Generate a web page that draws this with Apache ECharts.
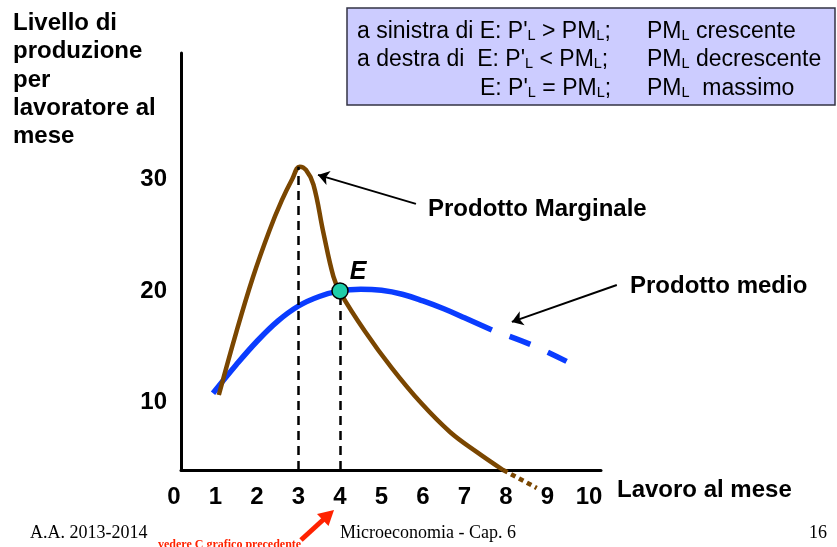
<!DOCTYPE html>
<html><head><meta charset="utf-8">
<script src="https://cdn.jsdelivr.net/npm/echarts@6/dist/echarts.min.js"></script>
<style>html,body{margin:0;padding:0;background:#fff}#c{width:837px;height:547px}</style>
</head><body><div id="c"></div>
<script>
// ---- data ----
const xTicks = [0, 1, 2, 3, 4, 5, 6, 7, 8, 9, 10];
const yTicks = [10, 20, 30];
// Prodotto marginale (solid part)
const marginalX = [1.08, 1.5, 1.9, 2.3, 2.6, 2.85, 3.03, 3.18, 3.36, 3.6, 3.84, 4.0, 4.6, 5.25, 5.95, 6.65, 7.3, 7.93];
const marginalY = [10.7, 16.3, 21.2, 25.4, 28.1, 30.0, 31.1, 30.8, 29.5, 25.2, 21.3, 19.9, 16.4, 13.1, 10.0, 7.4, 5.6, 4.0];
// Prodotto marginale (dotted continuation)
const marginalDotX = [7.93, 8.74];
const marginalDotY = [4.0, 2.4];
// Prodotto medio (solid part)
const averageX = [0.94, 1.5, 2.0, 2.5, 3.0, 3.5, 4.0, 4.5, 5.0, 5.5, 6.0, 6.5, 7.0, 7.66];
const averageY = [10.85, 13.4, 15.5, 17.3, 18.65, 19.5, 20.0, 20.15, 20.05, 19.7, 19.1, 18.4, 17.6, 16.5];
// Prodotto medio (dashed continuation)
const averageDashX = [7.66, 8.6, 9.46];
const averageDashY = [16.5, 15.2, 13.7];
// Punto E
const pointE = [4, 20];
// guide lines and arrows (data coordinates)
const guideX = [3, 4];
const guideTop = [31.1, 20];
const arrowMarginal = [[5.83, 27.77], [3.47, 30.36]];
const arrowMedio = [[10.67, 20.53], [8.14, 17.23]];

const zip = (a, b) => a.map((v, i) => [v, b[i]]);
const FONT = '"Liberation Sans", Arial, sans-serif';
const SERIF = '"Liberation Serif", "Times New Roman", serif';
const BLUE = '#0A3CFF', BROWN = '#7A4600';

const chart = echarts.init(document.getElementById('c'), null, { renderer: 'canvas' });

const boxRich = {
  n: { fontSize: 23, fontFamily: FONT, verticalAlign: 'bottom', lineHeight: 24, fill: '#000' },
  s: { fontSize: 14.5, fontFamily: FONT, verticalAlign: 'bottom', lineHeight: 18, fill: '#000' }
};
function boxText(x, y, str) {
  return { type: 'text', x: x, y: y, z: 20, style: { text: str, rich: boxRich, verticalAlign: 'middle', align: 'left', fill: '#000' } };
}

const option = {
  animation: false,
  backgroundColor: '#fff',
  grid: [
    { left: 174, right: 206.5, top: 53, bottom: 77 },
    { left: 181, right: 236, top: 53, bottom: 77 }
  ],
  xAxis: [
    { gridIndex: 0, type: 'value', min: 0, max: 11,
      axisLine: { show: false }, axisTick: { show: false }, splitLine: { show: false },
      axisLabel: { customValues: xTicks, margin: 15, fontSize: 24, fontWeight: 'bold', color: '#000', fontFamily: FONT } },
    { gridIndex: 1, type: 'value', min: 0, max: 1,
      axisLine: { show: true, onZero: false, lineStyle: { color: '#000', width: 3 } },
      axisTick: { show: false }, axisLabel: { show: false }, splitLine: { show: false },
      name: 'Lavoro al mese', nameLocation: 'end', nameGap: 16,
      nameTextStyle: { fontSize: 24, fontWeight: 'bold', color: '#000', fontFamily: FONT,
        verticalAlign: 'top', lineHeight: 40, align: 'left' } }
  ],
  yAxis: [
    { gridIndex: 0, type: 'value', min: 4, max: 41.25, show: false },
    { gridIndex: 1, type: 'value', min: 4, max: 41.25,
      axisLine: { show: true, onZero: false, lineStyle: { color: '#000', width: 3 } },
      axisTick: { show: false }, splitLine: { show: false },
      axisLabel: { customValues: yTicks, margin: 14, fontSize: 24, fontWeight: 'bold', color: '#000', fontFamily: FONT } }
  ],
  series: [
    { type: 'line', xAxisIndex: 0, yAxisIndex: 0, data: zip(averageX, averageY), smooth: 0.4, symbol: 'none', silent: true,
      lineStyle: { color: BLUE, width: 5.5 }, z: 2 },
    { type: 'line', xAxisIndex: 0, yAxisIndex: 0, data: zip(averageDashX, averageDashY), smooth: 0.4, symbol: 'none', silent: true,
      lineStyle: { color: BLUE, width: 5.5, type: [22, 19], dashOffset: 22, cap: 'butt' }, z: 2 },
    { type: 'line', xAxisIndex: 0, yAxisIndex: 0, data: zip(marginalX, marginalY), smooth: 0.4, symbol: 'none', silent: true,
      lineStyle: { color: BROWN, width: 4.5 }, z: 3,
      markLine: { silent: true, symbol: ['none', 'none'], label: { show: false },
        lineStyle: { color: '#000', width: 2.5, type: [9, 6] },
        data: guideX.map((x, i) => [{ coord: [x, 4] }, { coord: [x, guideTop[i]] }]) } },
    { type: 'line', xAxisIndex: 0, yAxisIndex: 0, data: zip(marginalDotX, marginalDotY), clip: false, symbol: 'none', silent: true,
      lineStyle: { color: BROWN, width: 4.5, type: [5, 4] }, z: 3,
      markLine: { silent: true, symbol: ['none', 'arrow'], symbolSize: 11, label: { show: false },
        lineStyle: { color: '#000', width: 2, type: 'solid' },
        data: [arrowMarginal, arrowMedio].map(a => [{ coord: a[0] }, { coord: a[1] }]) } },
    { type: 'scatter', xAxisIndex: 0, yAxisIndex: 0, data: [pointE], symbolSize: 16, silent: true, z: 10,
      itemStyle: { color: '#1ECDA9', borderColor: '#000', borderWidth: 1.5, opacity: 1 },
      label: { show: true, formatter: 'E', position: 'inside', offset: [18, -19], fontSize: 25,
        fontWeight: 'bold', fontStyle: 'italic', color: '#000', fontFamily: FONT } }
  ],
  graphic: [
    { type: 'text', x: 13, y: 9, style: { text: 'Livello di\nproduzione\nper\nlavoratore al\nmese',
        font: 'bold 24px ' + FONT, lineHeight: 28.4, fill: '#000', verticalAlign: 'top' } },
    { type: 'rect', z: 10, shape: { x: 347, y: 8, width: 488, height: 97 },
      style: { fill: '#CCCCFF', stroke: '#333344', lineWidth: 1.5 } },
    boxText(357, 31, "{n|a sinistra di E: P'}{s|L}{n| > PM}{s|L}{n|;}"),
    boxText(357, 59, "{n|a destra di  E: P'}{s|L}{n| < PM}{s|L}{n|;}"),
    boxText(480, 88, "{n|E: P'}{s|L}{n| = PM}{s|L}{n|;}"),
    boxText(647, 31, "{n|PM}{s|L}{n| crescente}"),
    boxText(647, 59, "{n|PM}{s|L}{n| decrescente}"),
    boxText(647, 88, "{n|PM}{s|L}{n|  massimo}"),
    { type: 'text', x: 428, y: 209, style: { text: 'Prodotto Marginale', font: 'bold 24px ' + FONT, fill: '#000', verticalAlign: 'middle' } },
    { type: 'text', x: 630, y: 286, style: { text: 'Prodotto medio', font: 'bold 24px ' + FONT, fill: '#000', verticalAlign: 'middle' } },
    { type: 'text', x: 30, y: 533, style: { text: 'A.A. 2013-2014', font: '18px ' + SERIF, fill: '#000', verticalAlign: 'middle' } },
    { type: 'text', x: 340, y: 533, style: { text: 'Microeconomia - Cap. 6', font: '18px ' + SERIF, fill: '#000', verticalAlign: 'middle' } },
    { type: 'text', x: 827, y: 533, style: { text: '16', font: '18px ' + SERIF, fill: '#000', verticalAlign: 'middle', align: 'right' } },
    { type: 'text', x: 158, y: 539, style: { text: 'vedere C grafico precedente', font: 'bold 12px ' + SERIF, fill: '#FF2200', verticalAlign: 'top' } },
    { type: 'polyline', shape: { points: [[301, 540], [324, 519]] }, style: { stroke: '#FF2200', lineWidth: 5 } },
    { type: 'polygon', shape: { points: [[334, 510], [328.5, 526], [317, 514]] }, style: { fill: '#FF2200' } }
  ]
};
chart.setOption(option);
</script>
</body></html>
